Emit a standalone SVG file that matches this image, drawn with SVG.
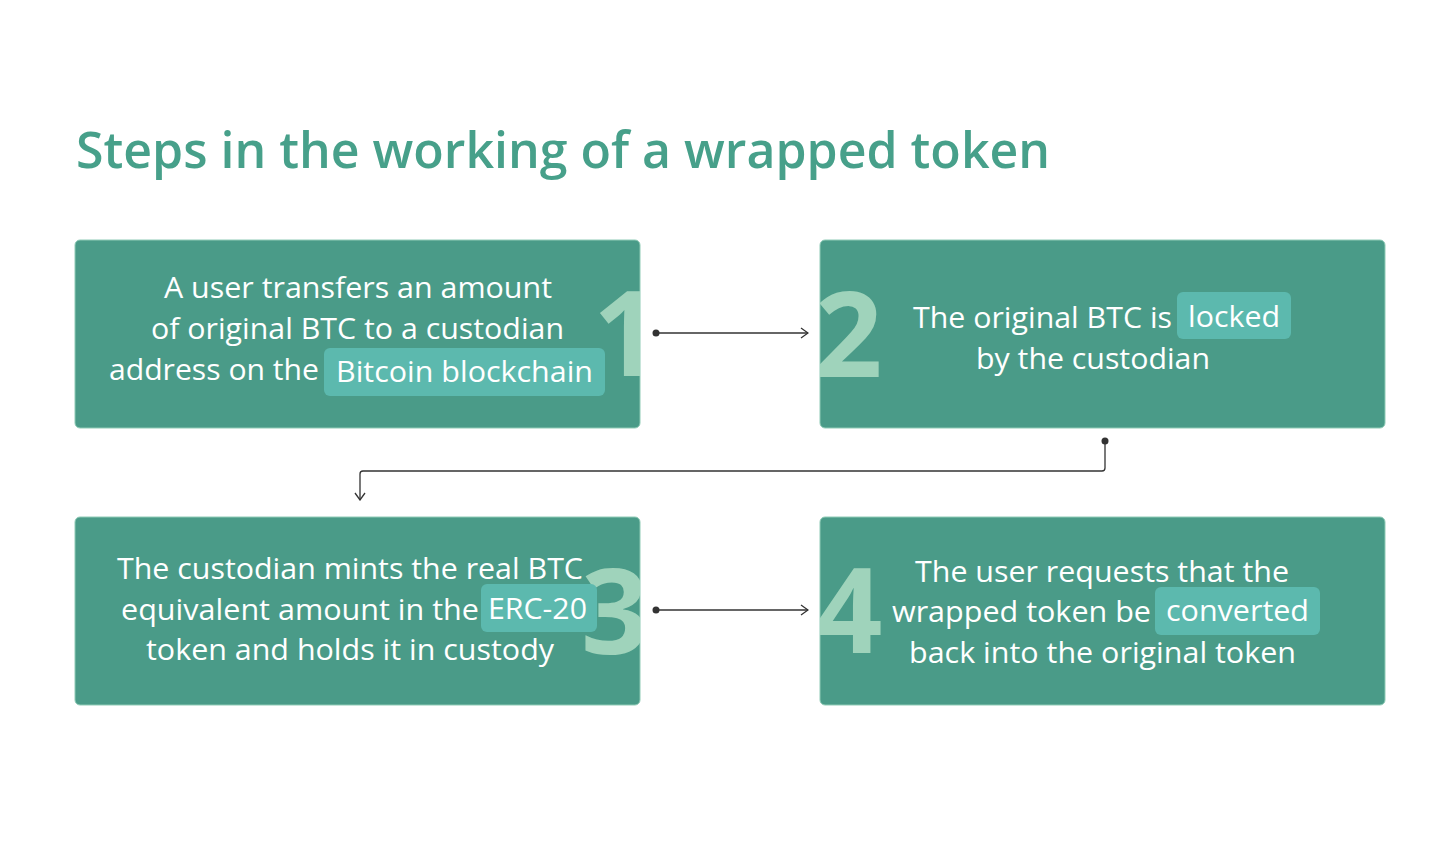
<svg xmlns="http://www.w3.org/2000/svg" width="1456" height="842" viewBox="0 0 1456 842">
<style>
.box{fill:#4a9b88;stroke:#8fcbb6;stroke-width:1}
.hl{fill:#5cb9ae}
.t{font-family:"Open Sans","Noto Sans","Liberation Sans",sans-serif;font-size:29.5px;fill:#ffffff}
.num{font-family:"Open Sans","Noto Sans","Liberation Sans",sans-serif;font-size:118px;font-weight:700;fill:#9fd3bb}
.title{font-family:"Open Sans","Noto Sans","Liberation Sans",sans-serif;font-size:50px;font-weight:600;fill:#47a08a}
.c{fill:none;stroke:#333333;stroke-width:1.3}
</style>
<defs>
<marker id="arr" viewBox="0 0 12 12" refX="11" refY="6" markerWidth="12" markerHeight="12" markerUnits="userSpaceOnUse" orient="auto">
<path d="M4,1 L11,6 L4,11" fill="none" stroke="#333333" stroke-width="1.3"/>
</marker>
<clipPath id="c1"><rect x="75" y="240" width="565" height="188" rx="5"/></clipPath>
<clipPath id="c2"><rect x="820" y="240" width="565" height="188" rx="5"/></clipPath>
<clipPath id="c3"><rect x="75" y="517" width="565" height="188" rx="5"/></clipPath>
<clipPath id="c4"><rect x="820" y="517" width="565" height="188" rx="5"/></clipPath>
</defs>
<rect width="1456" height="842" fill="#ffffff"/>
<text class="title" x="76" y="168">Steps in the working of a wrapped token</text>

<g id="node1">
<rect class="box" x="75" y="240" width="565" height="188" rx="5"/>
<text class="num" x="593" y="376" clip-path="url(#c1)">1</text>
<rect class="hl" x="324" y="348" width="281" height="48" rx="6"/>
<text class="t" x="164" y="298" textLength="388" lengthAdjust="spacingAndGlyphs">A user transfers an amount</text>
<text class="t" x="151" y="339" textLength="413" lengthAdjust="spacingAndGlyphs">of original BTC to a custodian</text>
<text class="t" x="109" y="380" textLength="210" lengthAdjust="spacingAndGlyphs">address on the</text>
<text class="t" x="336" y="382" textLength="257" lengthAdjust="spacingAndGlyphs">Bitcoin blockchain</text>
</g>

<g id="node2">
<rect class="box" x="820" y="240" width="565" height="188" rx="5"/>
<text class="num" x="815" y="377" clip-path="url(#c2)">2</text>
<rect class="hl" x="1177" y="292" width="114" height="47" rx="6"/>
<text class="t" x="913" y="328" textLength="259" lengthAdjust="spacingAndGlyphs">The original BTC is</text>
<text class="t" x="1188" y="327" textLength="92" lengthAdjust="spacingAndGlyphs">locked</text>
<text class="t" x="976" y="369" textLength="234" lengthAdjust="spacingAndGlyphs">by the custodian</text>
</g>

<g id="node3">
<rect class="box" x="75" y="517" width="565" height="188" rx="5"/>
<text class="num" x="581" y="654" clip-path="url(#c3)">3</text>
<rect class="hl" x="481" y="584" width="116" height="48" rx="6"/>
<text class="t" x="117" y="579" textLength="466" lengthAdjust="spacingAndGlyphs">The custodian mints the real BTC</text>
<text class="t" x="121" y="620" textLength="358" lengthAdjust="spacingAndGlyphs">equivalent amount in the</text>
<text class="t" x="488" y="619" textLength="99" lengthAdjust="spacingAndGlyphs">ERC-20</text>
<text class="t" x="146" y="660" textLength="408" lengthAdjust="spacingAndGlyphs">token and holds it in custody</text>
</g>

<g id="node4">
<rect class="box" x="820" y="517" width="565" height="188" rx="5"/>
<text class="num" x="815" y="653" clip-path="url(#c4)">4</text>
<rect class="hl" x="1155" y="587" width="165" height="48" rx="6"/>
<text class="t" x="915" y="582" textLength="374" lengthAdjust="spacingAndGlyphs">The user requests that the</text>
<text class="t" x="892" y="622" textLength="259" lengthAdjust="spacingAndGlyphs">wrapped token be</text>
<text class="t" x="1166" y="621" textLength="143" lengthAdjust="spacingAndGlyphs">converted</text>
<text class="t" x="909" y="663" textLength="387" lengthAdjust="spacingAndGlyphs">back into the original token</text>
</g>

<g id="connectors">
<circle cx="656" cy="333" r="3.5" fill="#333333"/>
<path class="c" d="M656,333 L808,333" marker-end="url(#arr)"/>
<circle cx="1105" cy="441" r="3.5" fill="#333333"/>
<path class="c" d="M1105,441 L1105,468 Q1105,471 1102,471 L363,471 Q360,471 360,474 L360,500" marker-end="url(#arr)"/>
<circle cx="656" cy="610" r="3.5" fill="#333333"/>
<path class="c" d="M656,610 L808,610" marker-end="url(#arr)"/>
</g>
</svg>
